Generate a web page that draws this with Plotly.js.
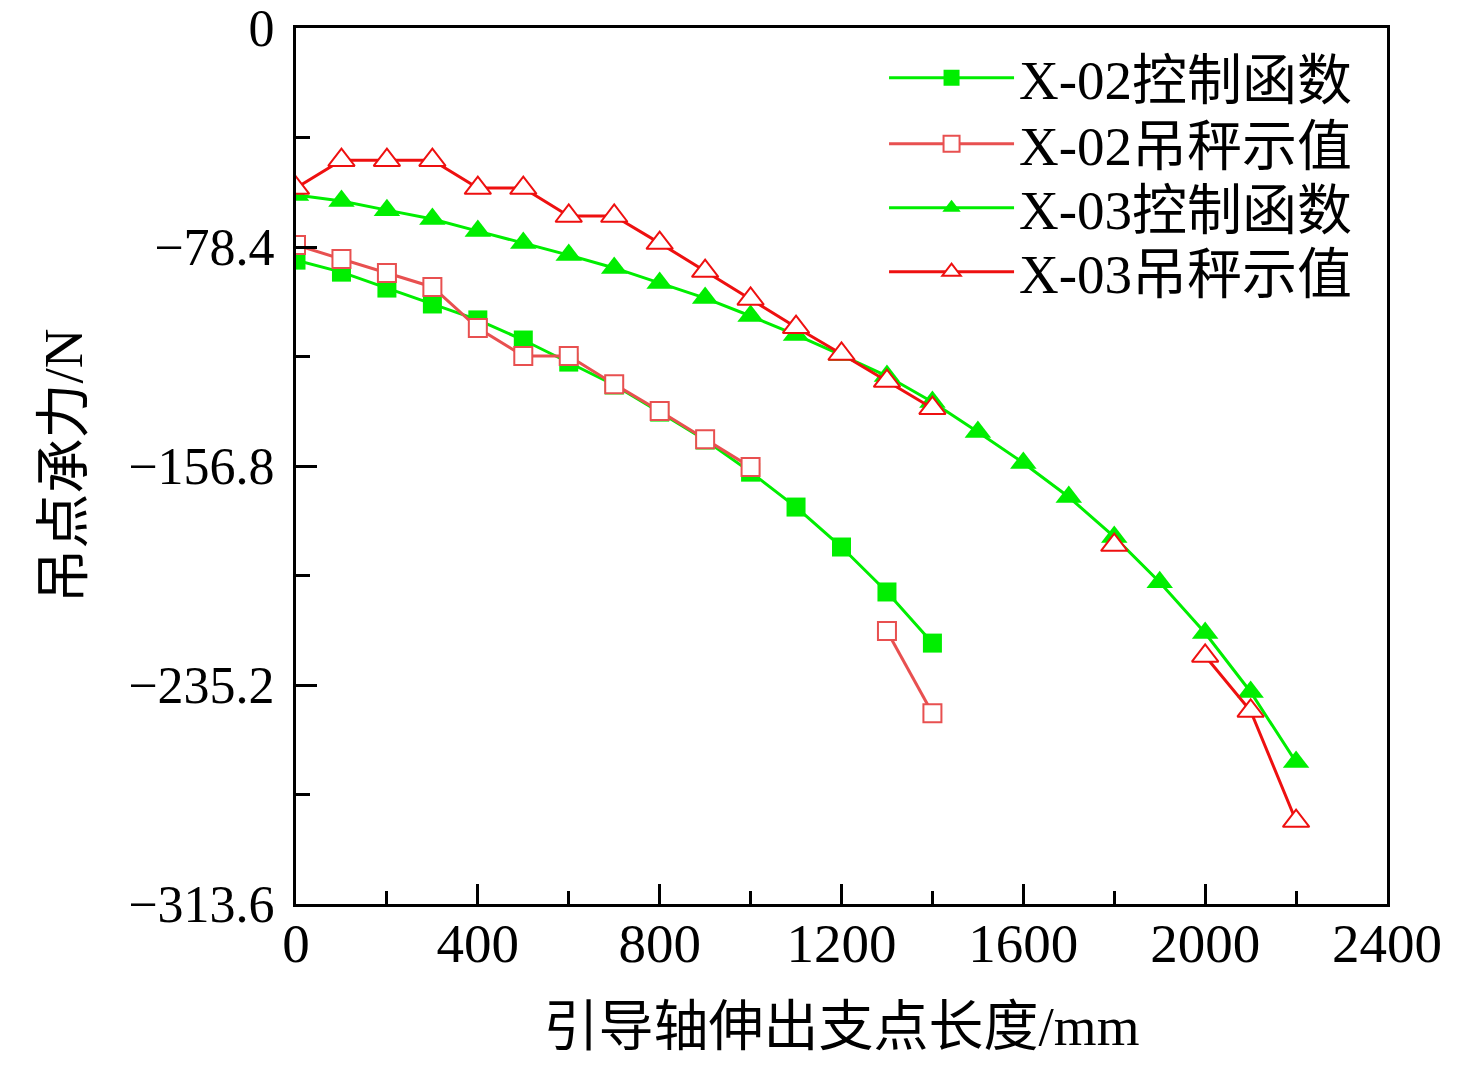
<!DOCTYPE html>
<html>
<head>
<meta charset="utf-8">
<script src="https://cdn.plot.ly/plotly-3.0.1.min.js"></script>
<style>html,body{margin:0;padding:0;background:#fff;}#chart{width:1476px;height:1067px;}</style>
</head>
<body>
<div id="chart"></div>
<script>
// ---- data ----
const seriesNames = ['X-02控制函数', 'X-02吊秤示值', 'X-03控制函数', 'X-03吊秤示值'];

const x02CtrlX = [0,100,200,300,400,500,600,700,800,900,1000,1100,1200,1300,1400];
const x02CtrlY = [-83.1,-87.4,-93.1,-98.8,-104.5,-111.7,-119.6,-127.8,-137.5,-147.5,-159.0,-171.5,-185.8,-201.9,-220.2];

const x02ScaleX = [0,100,200,300,400,500,600,700,800,900,1000,null,1300,1400];
const x02ScaleY = [-77.7,-82.7,-87.7,-92.7,-107.4,-117.4,-117.4,-127.5,-137.1,-147.2,-157.2,null,-215.9,-245.3];

const x03CtrlX = [0,100,200,300,400,500,600,700,800,900,1000,1100,1200,1300,1400,1500,1600,1700,1800,1900,2000,2100,2200];
const x03CtrlY = [-59.8,-61.9,-65.2,-68.4,-72.7,-77.0,-81.3,-85.9,-91.3,-96.7,-103.1,-109.9,-117.1,-124.6,-133.9,-144.6,-155.7,-167.9,-182.2,-198.4,-216.6,-237.7,-262.8];

const x03ScaleX = [0,100,200,300,400,500,600,700,800,900,1000,1100,1200,1300,1400,null,1800,null,2000,2100,2200];
const x03ScaleY = [-57.3,-47.3,-47.3,-47.3,-57.3,-57.3,-67.3,-67.3,-77.0,-87.0,-97.0,-107.1,-116.7,-126.4,-136.1,null,-185.1,null,-224.8,-244.5,-283.9];

const xTitle = '引导轴伸出支点长度/mm';
const yTitle = '吊点承力/N';

// ---- styling ----
const GREEN = '#00ee00';
const RED1 = '#e85050';
const RED2 = '#ee1010';
const FONT = 'Times New Roman, Liberation Serif, Noto Sans CJK SC, serif';
const FS = 55;

const traces = [
  {x: x02CtrlX, y: x02CtrlY, name: seriesNames[0], mode: 'lines+markers', legend: 'legend',
   line: {color: GREEN, width: 3}, marker: {symbol: 'square', size: 19, color: GREEN, line: {width: 0}}},
  {x: x02ScaleX, y: x02ScaleY, name: seriesNames[1], mode: 'lines+markers', connectgaps: false, legend: 'legend2',
   line: {color: RED1, width: 3}, marker: {symbol: 'square', size: 18, color: '#ffffff', line: {color: RED1, width: 2}}},
  {x: x03CtrlX, y: x03CtrlY, name: seriesNames[2], mode: 'lines+markers', legend: 'legend3',
   line: {color: GREEN, width: 3}, marker: {symbol: 'triangle-up', size: 23, color: GREEN, line: {width: 0}}},
  {x: x03ScaleX, y: x03ScaleY, name: seriesNames[3], mode: 'lines+markers', connectgaps: false, legend: 'legend4',
   line: {color: RED2, width: 3}, marker: {symbol: 'triangle-up', size: 23, color: '#ffffff', line: {color: RED2, width: 2}}}
];

function legendAt(yPaper) {
  return {
    x: 0.539, xanchor: 'left', y: yPaper, yanchor: 'middle',
    bgcolor: 'rgba(0,0,0,0)', borderwidth: 0,
    font: {family: FONT, size: FS, color: '#000'},
    itemwidth: 125
  };
}

const layout = {
  width: 1476, height: 1067,
  margin: {l: 296, r: 89, t: 28, b: 163},
  paper_bgcolor: '#ffffff', plot_bgcolor: '#ffffff',
  font: {family: FONT, size: FS, color: '#000'},
  showlegend: true,
  legend: legendAt(0.9429),
  legend2: legendAt(0.8676),
  legend3: legendAt(0.7945),
  legend4: legendAt(0.7215),
  xaxis: {
    range: [0, 2400], tick0: 0, dtick: 400,
    showline: true, linecolor: '#000', linewidth: 3, mirror: true,
    ticks: 'inside', ticklen: 20, tickwidth: 3, tickcolor: '#000',
    minor: {dtick: 200, ticks: 'inside', ticklen: 13, tickwidth: 3, tickcolor: '#000'},
    showgrid: false, zeroline: false, ticklabelstandoff: -11, ticklabeloverflow: 'allow',
    tickfont: {family: FONT, size: FS, color: '#000'},
    title: {text: xTitle, font: {family: FONT, size: FS, color: '#000'}, standoff: 34}
  },
  yaxis: {
    range: [-313.6, 0], tick0: 0, dtick: 78.4,
    showline: true, linecolor: '#000', linewidth: 3, mirror: true,
    ticks: 'inside', ticklen: 21, tickwidth: 3, tickcolor: '#000',
    minor: {dtick: 39.2, ticks: 'inside', ticklen: 14, tickwidth: 3, tickcolor: '#000'},
    showgrid: false, zeroline: false, ticklabelstandoff: 8,
    tickfont: {family: FONT, size: 52, color: '#000'},
    title: {text: yTitle, font: {family: FONT, size: FS, color: '#000'}, standoff: 29}
  }
};

Plotly.newPlot('chart', traces, layout, {displayModeBar: false, staticPlot: true});
</script>
</body>
</html>
